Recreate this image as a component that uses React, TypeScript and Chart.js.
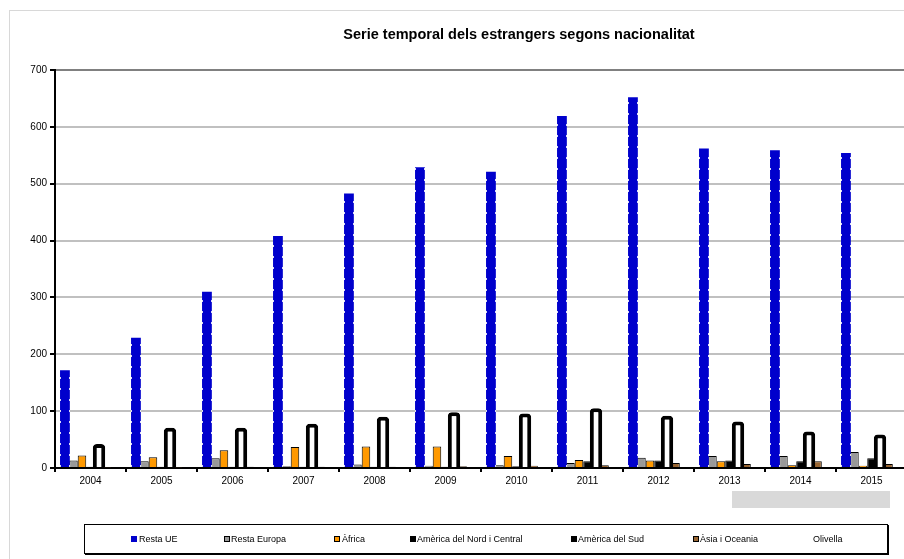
import React, { useEffect, useRef } from "react";
import { Chart, registerables } from "chart.js";

Chart.register(...registerables);

const years = ["2004", "2005", "2006", "2007", "2008", "2009", "2010", "2011", "2012", "2013", "2014", "2015"];
const restaUE = [172, 229, 310, 408, 483, 529, 521, 619, 652, 562, 559, 554];
const restaEuropa = [13, 12, 17, 3, 6, 4, 5, 9, 18, 21, 21, 28];
const africa = [22, 19, 31, 37, 38, 38, 21, 14, 13, 12, 5, 4];
const americaNord = [2, 2, 2, 2, 2, 2, 3, 12, 13, 13, 12, 17];
const americaSud = [42, 71, 71, 78, 90, 98, 96, 105, 92, 82, 64, 59];
const asiaOceania = [1, 1, 2, 2, 2, 3, 4, 5, 9, 7, 12, 7];
const olivella = [0, 0, 0, 0, 0, 0, 0, 0, 0, 0, 0, 0];
const yTicks = [0, 100, 200, 300, 400, 500, 600, 700];

const FONT = "'Liberation Sans', Arial, sans-serif";

const legendItems = [
  { label: "Resta UE", color: "#0000CC", border: "#0000CC", mx: 131, tx: 139 },
  { label: "Resta Europa", color: "#999999", border: "#000", mx: 224, tx: 231 },
  { label: "Àfrica", color: "#FF9900", border: "#000", mx: 334, tx: 342 },
  { label: "Amèrica del Nord i Central", color: "#000000", border: "#000", mx: 410, tx: 417 },
  { label: "Amèrica del Sud", color: "#000000", border: "#000", mx: 571, tx: 578 },
  { label: "Àsia i Oceania", color: "#996633", border: "#000", mx: 693, tx: 700 },
  { label: "Olivella", color: "transparent", border: "transparent", mx: 806, tx: 813 },
];

const dashPlugin = {
  id: "ueDash",
  afterDatasetsDraw(chart: any) {
    const meta = chart.getDatasetMeta(0);
    const ctx = chart.ctx;
    ctx.save();
    ctx.strokeStyle = "rgba(255,255,255,0.85)";
    ctx.lineWidth = 1;
    ctx.setLineDash([2, 9]);
    meta.data.forEach((bar: any) => {
      const { x, y, base, width } = bar.getProps(["x", "y", "base", "width"], true);
      const l = Math.round(x - width / 2) + 0.5;
      const r = Math.round(x + width / 2) - 0.5;
      ctx.beginPath();
      ctx.moveTo(l, base);
      ctx.lineTo(l, y);
      ctx.moveTo(r, base);
      ctx.lineTo(r, y);
      ctx.stroke();
    });
    ctx.restore();
  },
};

export default function App() {
  const ref = useRef<HTMLCanvasElement>(null);
  useEffect(() => {
    if (!ref.current) return;
    const chart = new Chart(ref.current, {
      type: "bar",
      data: {
        labels: years,
        datasets: [
          { label: "Resta UE", data: restaUE, backgroundColor: "#0000CC", borderWidth: 0, barPercentage: 1.15 },
          { label: "Resta Europa", data: restaEuropa, backgroundColor: "#999999", borderColor: "#000", borderWidth: 1 },
          { label: "Àfrica", data: africa, backgroundColor: "#FF9900", borderColor: "#000", borderWidth: 1 },
          { label: "Amèrica del Nord i Central", data: americaNord, backgroundColor: "#000000", borderColor: "#000", borderWidth: 1 },
          {
            label: "Amèrica del Sud",
            data: americaSud,
            backgroundColor: "#FFFFFF",
            borderColor: "#000",
            borderWidth: { top: 4, left: 4, right: 4, bottom: 0 },
            borderRadius: { topLeft: 4, topRight: 4, bottomLeft: 0, bottomRight: 0 },
            borderSkipped: false,
            barPercentage: 1.45,
          },
          { label: "Àsia i Oceania", data: asiaOceania, backgroundColor: "#996633", borderColor: "#000", borderWidth: 1 },
          { label: "Olivella", data: olivella, backgroundColor: "transparent", borderWidth: 0 },
        ] as any,
      },
      options: {
        animation: false,
        responsive: false,
        maintainAspectRatio: false,
        layout: { padding: { left: 7, top: 70, right: 5, bottom: 0 } },
        datasets: { bar: { barPercentage: 1, categoryPercentage: 0.84 } } as any,
        plugins: { legend: { display: false }, title: { display: false }, tooltip: { enabled: false } },
        scales: {
          x: {
            grid: { drawOnChartArea: false, drawTicks: true, tickLength: 4, tickColor: "#000", lineWidth: 2 },
            border: { color: "#000", width: 2 },
            ticks: { color: "#000", font: { family: FONT, size: 10 }, padding: 3, maxRotation: 0 },
            afterFit: (s: any) => { s.height = 91; },
          },
          y: {
            min: 0,
            max: 700,
            afterBuildTicks: (s: any) => { s.ticks = yTicks.map((v) => ({ value: v })); },
            grid: {
              color: (c: any) => (c.tick && c.tick.value === 700 ? "#808080" : "#C0C0C0"),
              lineWidth: 2,
              drawTicks: true,
              tickLength: 5,
              tickColor: "#000",
            },
            border: { color: "#000", width: 2 },
            ticks: { color: "#000", font: { family: FONT, size: 10 }, padding: 3 },
            afterFit: (s: any) => { s.width = 48; },
          },
        },
      },
      plugins: [dashPlugin],
    });
    return () => chart.destroy();
  }, []);

  return (
    <div style={{ position: "absolute", left: 0, top: 0, width: 904, height: 559, overflow: "hidden", background: "#fff" }}>
      <div style={{ position: "absolute", left: 9, top: 10, width: 1000, height: 1000, border: "1px solid #D8D8D8" }} />
      <canvas ref={ref} width={912} height={559} style={{ position: "absolute", left: 0, top: 0, width: 912, height: 559 }} />
      <div
        style={{
          position: "absolute",
          left: 219,
          width: 600,
          top: 25,
          textAlign: "center",
          fontFamily: FONT,
          fontWeight: "bold",
          fontSize: 14.5,
          color: "#000",
          lineHeight: "18px",
        }}
      >
        Serie temporal dels estrangers segons nacionalitat
      </div>
      <div style={{ position: "absolute", left: 732, top: 491, width: 158, height: 17, background: "#D9D9D9" }} />
      <div
        style={{
          position: "absolute",
          left: 84,
          top: 524,
          width: 802,
          height: 28,
          border: "1px solid #000",
          boxShadow: "1px 1px 0 #000",
          background: "#fff",
        }}
      />
      {legendItems.map((it) => (
        <React.Fragment key={it.label}>
          <div
            style={{
              position: "absolute",
              left: it.mx,
              top: 536,
              width: 6,
              height: 6,
              boxSizing: "border-box",
              background: it.color,
              border: `1px solid ${it.border}`,
            }}
          />
          <div
            style={{
              position: "absolute",
              left: it.tx,
              top: 533,
              fontFamily: FONT,
              fontSize: 9,
              lineHeight: "12px",
              color: "#000",
              whiteSpace: "nowrap",
            }}
          >
            {it.label}
          </div>
        </React.Fragment>
      ))}
    </div>
  );
}
